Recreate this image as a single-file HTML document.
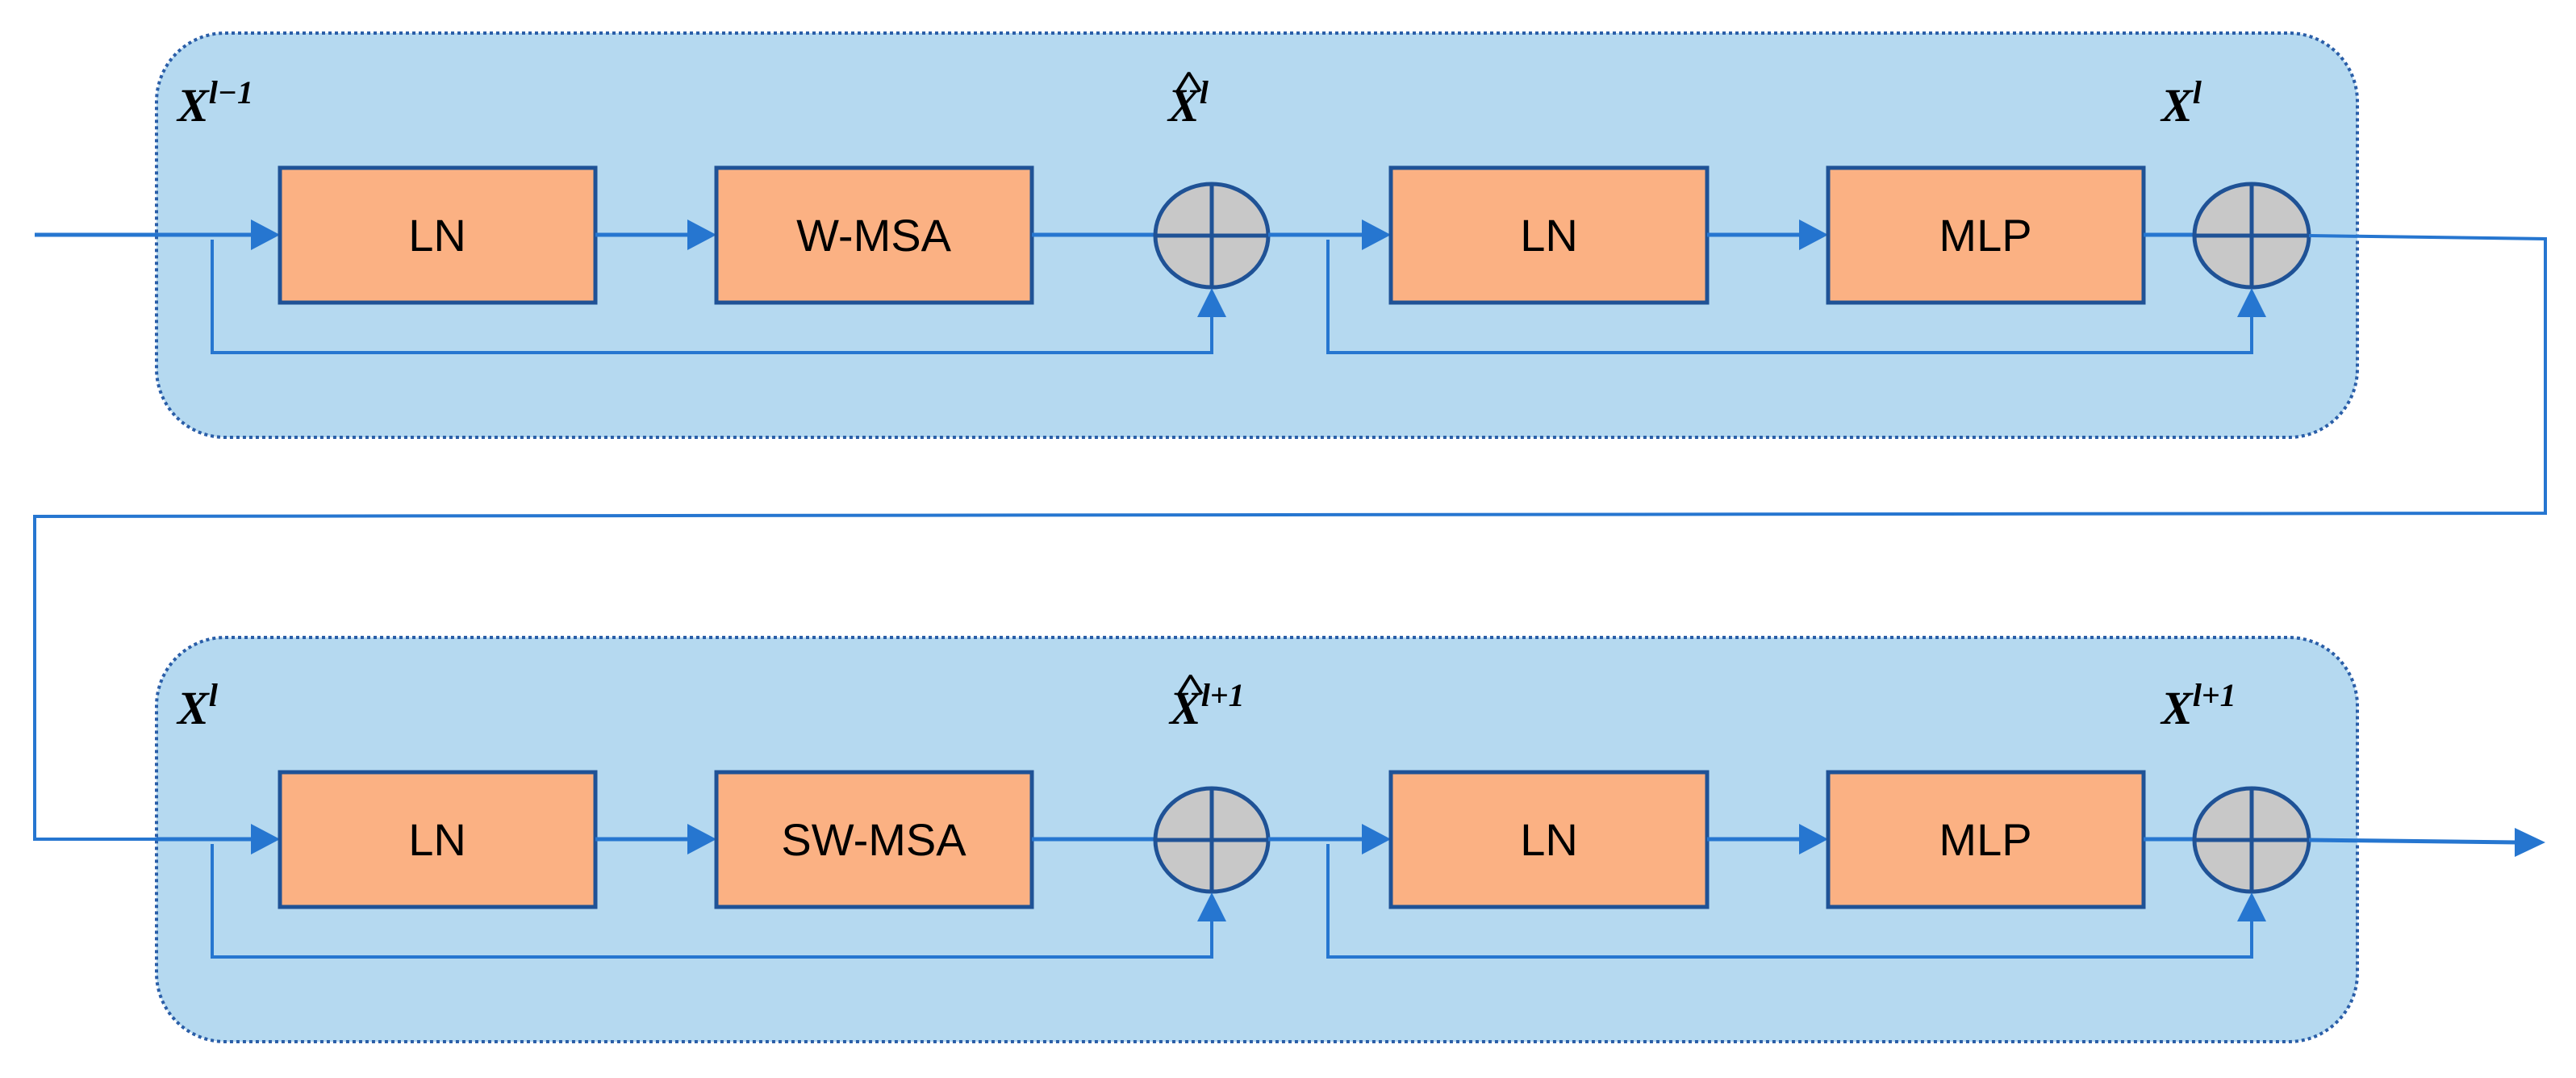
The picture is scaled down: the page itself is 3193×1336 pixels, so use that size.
<!DOCTYPE html>
<html><head><meta charset="utf-8"><style>
html,body{margin:0;padding:0;background:#fff;}
svg{display:block;}
text{font-family:"Liberation Serif",serif;font-weight:bold;font-style:italic;fill:#000;}
.bt{font-family:"Liberation Sans",sans-serif;font-style:normal;font-weight:normal;font-size:56px;}
</style></head><body>
<svg width="3193" height="1336" viewBox="0 0 3193 1336" xmlns="http://www.w3.org/2000/svg">
<defs>
<g id="row">
  <rect x="194" y="41" width="2728" height="501" rx="85" ry="85" fill="#b5d9f0" stroke="#2a5ea8" stroke-width="4" stroke-dasharray="4 4"/>
  <line x1="194" y1="291" x2="312" y2="291" stroke="#2676d0" stroke-width="5"/>
  <polygon points="347,291 311,272 311,310" fill="#2676d0"/>
  <rect x="347" y="208" width="391" height="167" fill="#fbb183" stroke="#1f5296" stroke-width="5"/>
  <line x1="738" y1="291" x2="853" y2="291" stroke="#2676d0" stroke-width="5"/>
  <polygon points="888,291 852,272 852,310" fill="#2676d0"/>
  <rect x="888" y="208" width="391" height="167" fill="#fbb183" stroke="#1f5296" stroke-width="5"/>
  <line x1="1279" y1="291" x2="1431" y2="291" stroke="#2676d0" stroke-width="5"/>
  <ellipse cx="1502" cy="292" rx="70" ry="64" fill="#c8c8c8" stroke="#1f5296" stroke-width="5"/>
  <line x1="1432" y1="292" x2="1572" y2="292" stroke="#1f5296" stroke-width="5"/>
  <line x1="1502" y1="228" x2="1502" y2="356" stroke="#1f5296" stroke-width="5"/>
  <polyline points="263,297 263,437 1502,437 1502,390" fill="none" stroke="#2676d0" stroke-width="4"/>
  <polygon points="1502,357 1484,393 1520,393" fill="#2676d0"/>
  <line x1="1572" y1="291" x2="1690" y2="291" stroke="#2676d0" stroke-width="5"/>
  <polygon points="1724,291 1688,272 1688,310" fill="#2676d0"/>
  <rect x="1724" y="208" width="392" height="167" fill="#fbb183" stroke="#1f5296" stroke-width="5"/>
  <line x1="2116" y1="291" x2="2232" y2="291" stroke="#2676d0" stroke-width="5"/>
  <polygon points="2266,291 2230,272 2230,310" fill="#2676d0"/>
  <rect x="2266" y="208" width="391" height="167" fill="#fbb183" stroke="#1f5296" stroke-width="5"/>
  <line x1="2657" y1="291" x2="2721" y2="291" stroke="#2676d0" stroke-width="5"/>
  <ellipse cx="2791" cy="292" rx="71" ry="64" fill="#c8c8c8" stroke="#1f5296" stroke-width="5"/>
  <line x1="2720" y1="292" x2="2862" y2="292" stroke="#1f5296" stroke-width="5"/>
  <line x1="2791" y1="228" x2="2791" y2="356" stroke="#1f5296" stroke-width="5"/>
  <polyline points="1646,297 1646,437 2791,437 2791,390" fill="none" stroke="#2676d0" stroke-width="4"/>
  <polygon points="2791,357 2773,393 2809,393" fill="#2676d0"/>
</g>
</defs>

<use href="#row"/>
<use href="#row" transform="translate(0,749)"/>

<line x1="43" y1="291" x2="196" y2="291" stroke="#2676d0" stroke-width="5"/>
<polyline points="2862,292 3155,296 3155,636 43,640 43,1040 196,1040" fill="none" stroke="#2676d0" stroke-width="4"/>
<line x1="2862" y1="1041" x2="3120" y2="1044" stroke="#2676d0" stroke-width="5"/>
<polygon points="3155,1044 3117,1026 3117,1062" fill="#2676d0"/>

<text class="bt" x="542" y="311" text-anchor="middle">LN</text>
<text class="bt" x="1083" y="311" text-anchor="middle">W-MSA</text>
<text class="bt" x="1920" y="311" text-anchor="middle">LN</text>
<text class="bt" x="2461" y="311" text-anchor="middle">MLP</text>
<text class="bt" x="542" y="1060" text-anchor="middle">LN</text>
<text class="bt" x="1083" y="1060" text-anchor="middle">SW-MSA</text>
<text class="bt" x="1920" y="1060" text-anchor="middle">LN</text>
<text class="bt" x="2461" y="1060" text-anchor="middle">MLP</text>

<text x="220" y="150" font-size="58">X<tspan font-size="40" dy="-22">l−1</tspan></text>
<text x="1448" y="150" font-size="58">X<tspan font-size="40" dy="-22">l</tspan></text>
<text x="1453" y="122" font-size="50" font-style="normal" font-weight="normal" transform="translate(1453,0) scale(1.4,1) translate(-1453,0)">^</text>
<text x="2679" y="150" font-size="58">X<tspan font-size="40" dy="-22">l</tspan></text>

<text x="220" y="897" font-size="58">X<tspan font-size="40" dy="-22">l</tspan></text>
<text x="1450" y="897" font-size="58">X<tspan font-size="40" dy="-22">l+1</tspan></text>
<text x="1455" y="869" font-size="50" font-style="normal" font-weight="normal" transform="translate(1455,0) scale(1.4,1) translate(-1455,0)">^</text>
<text x="2679" y="897" font-size="58">X<tspan font-size="40" dy="-22">l+1</tspan></text>
</svg>
</body></html>
